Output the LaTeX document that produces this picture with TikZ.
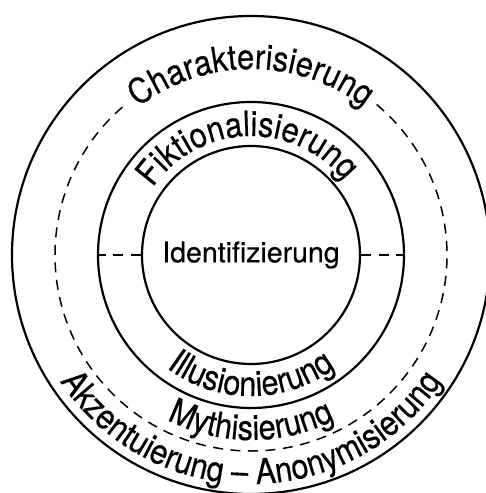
\documentclass[tikz,border=0pt]{standalone}
\usepackage{fontspec}
\setmainfont[FakeBold=0.4]{TeX Gyre Heros}
\newfontfamily\ringfamily[FakeStretch=0.88, FakeBold=0.4]{TeX Gyre Heros}
\usetikzlibrary{decorations.text}

\newcommand\ringfont{\ringfamily\fontsize{35}{41}\selectfont}
\newcommand\corefont{\fontsize{28.5}{34}\selectfont}

\tikzset{
  ring/.style={circle, draw, line width=2.2pt, inner sep=0pt},
  dashline/.style={line width=1.5pt, dash pattern=on 10pt off 7.5pt},
  ringtext/.style={decorate, decoration={text along path, text align=center, text={|\ringfont|#1}}}
}

\begin{document}
\begin{tikzpicture}[x=1pt,y=1pt]
  \useasboundingbox (-251,-238) rectangle (234,255);

  % Rings
  \node[ring, minimum size=478pt] (outer) at (0,0) {};
  \node[ring, minimum size=306pt] (fiction) at (0,0) {};
  \node[ring, minimum size=218pt] (core) at (0,0) {\corefont Identifizierung};

  % Dashed ring, open under the top label
  \draw[dashline] (131:196) arc[start angle=131, end angle=412, radius=196];

  % Dashes between the two inner rings
  \draw[dashline] (core.west) -- (fiction.west);
  \draw[dashline] (core.east) -- (fiction.east);

  % Labels along the rings
  \path[ringtext=Charakterisierung] (150:186) arc[start angle=150, end angle=30, radius=186];
  \path[ringtext=Fiktionalisierung] (170:119) arc[start angle=170, end angle=14, radius=119];
  \path[ringtext=Illusionierung] (200:141) arc[start angle=200, end angle=340, radius=141];
  \path[ringtext=Mythisierung] (215:185) arc[start angle=215, end angle=325, radius=185];
  \path[ringtext={Akzentuierung – Anonymisierung}] (195:229) arc[start angle=195, end angle=345, radius=229];
\end{tikzpicture}
\end{document}
